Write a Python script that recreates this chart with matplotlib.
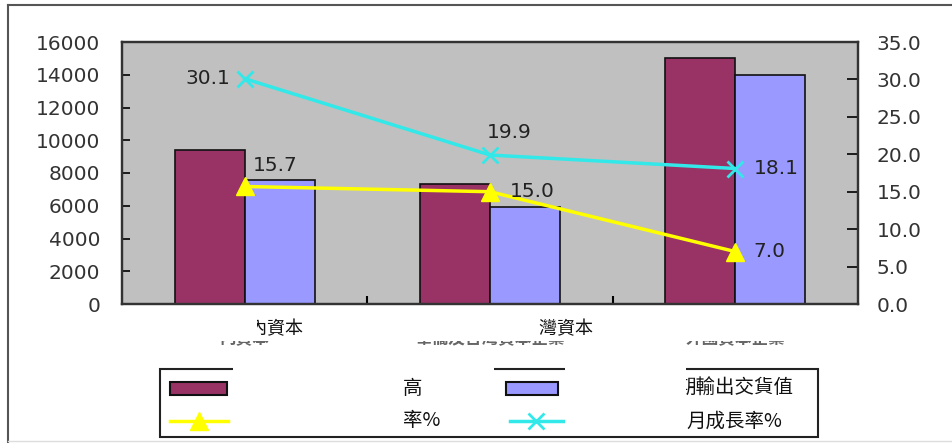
import matplotlib.pyplot as plt
import matplotlib.patches as mpatches
import matplotlib.lines as mlines
import matplotlib.transforms as mtransforms
from matplotlib.ticker import FormatStrFormatter
import numpy as np

plt.rcParams['font.family'] = ['DejaVu Sans', 'Noto Sans CJK TC']

# data
categories = ['內資本', '華僑及台灣資本企業', '外國資本企業']
orders = [9400, 7300, 15000]          # maroon bars
exports = [7600, 5900, 14000]         # blue bars
growth_yellow = [15.7, 15.0, 7.0]     # yellow line, right axis
growth_cyan = [30.1, 19.9, 18.1]      # cyan line, right axis
left_ticks = list(range(0, 16001, 2000))
right_ticks = [0, 5, 10, 15, 20, 25, 30, 35]

W, H = 953, 443
fig = plt.figure(figsize=(W / 100, H / 100), dpi=100)
# pixel coords with origin at top-left
PX = mtransforms.Affine2D().scale(1, -1).translate(0, H)

cjk = ['Noto Sans CJK TC', 'DejaVu Sans']
maroon = '#993366'
lilac = '#9999FF'
yellow = '#FFFF00'
cyan = '#33E8E8'

ax = fig.add_axes([122 / W, 1 - 304 / H, 736 / W, 262 / H])
ax.set_facecolor('#C0C0C0')

x = np.arange(len(categories))
bw = 0.285
ax.bar(x - bw / 2, orders, bw, color=maroon, edgecolor='#111', linewidth=1.2, zorder=2)
ax.bar(x + bw / 2, exports, bw, color=lilac, edgecolor='#111', linewidth=1.2, zorder=2)
ax.set_xlim(-0.5, 2.5)
ax.set_ylim(0, 16000)
ax.set_yticks(left_ticks)
ax.tick_params(axis='y', direction='in', length=6, width=1.2, pad=15.5,
               labelsize=14.5, labelcolor='#333')

ax.set_xticks([0.5, 1.5])
ax.set_xticklabels([])
ax.tick_params(axis='x', which='major', direction='in', length=6, width=1.5)
ax.set_xticks(x, minor=True)
ax.set_xticklabels(categories, minor=True, fontsize=12, fontweight='bold',
                   color='#666', family=cjk)
ax.tick_params(axis='x', which='minor', length=0, pad=19)

ax2 = ax.twinx()
ax2.plot(x, growth_cyan, color=cyan, lw=2.5, marker='x', ms=11, mew=2, zorder=3)
ax2.plot(x, growth_yellow, color=yellow, lw=2.5, marker='^', ms=13, zorder=4)
ax2.set_ylim(0, 35)
ax2.set_yticks(right_ticks)
ax2.yaxis.set_major_formatter(FormatStrFormatter('%.1f'))
ax2.tick_params(axis='y', direction='in', length=8, width=1.2, pad=13.5,
                labelsize=14.5, labelcolor='#333')

for a in (ax, ax2):
    for sp in a.spines.values():
        sp.set_color('#333')
        sp.set_linewidth(1.6)

# data labels
cyan_off = [(-10.5, 0, 'right'), (-2, 16.5, 'left'), (13, 0, 'left')]
yellow_off = [(6, 15, 'left'), (14, 0, 'left'), (13, 0, 'left')]
for vals, offs in ((growth_cyan, cyan_off), (growth_yellow, yellow_off)):
    for xi, v, (dx, dy, ha) in zip(x, vals, offs):
        ax2.annotate(f'{v:.1f}', (xi, v), textcoords='offset points',
                     xytext=(dx, dy), ha=ha, va='center', fontsize=14.5,
                     color='#222', zorder=5)

# outer frame
fig.add_artist(mlines.Line2D([8, 8], [5, 443], transform=PX, color='#555', lw=1.5))
fig.add_artist(mlines.Line2D([8, 953], [5, 5], transform=PX, color='#555', lw=1.5))
fig.add_artist(mlines.Line2D([8, 953], [441, 441], transform=PX, color='#ddd', lw=1))

# white patch over upper half of the category labels
fig.add_artist(mpatches.Rectangle((190, 312), 620, 29, transform=PX,
                                  facecolor='white', edgecolor='none', zorder=2))


def clipped_text(xp, yp, s, clip_left, size, ha='left'):
    t = fig.text(xp, yp, s, transform=PX, ha=ha, va='center', fontsize=size,
                 family=cjk, color='#111', zorder=5)
    box = mtransforms.TransformedBbox(
        mtransforms.Bbox([[clip_left, 0], [W, H]]),
        mtransforms.IdentityTransform())
    t.set_clip_box(box)
    t.set_clip_on(True)
    return t


clipped_text(303, 329, '內資本', 257, 13, ha='right')
clipped_text(593, 329, '台灣資本', 539, 13, ha='right')

# legend box
fig.add_artist(mpatches.Rectangle((160, 369), 658, 68, transform=PX,
                                  facecolor='white', edgecolor='#222', lw=1.5, zorder=1))
fig.add_artist(mpatches.Rectangle((170, 382), 57, 13, transform=PX,
                                  facecolor=maroon, edgecolor='#111', lw=1.5, zorder=1.5))
fig.add_artist(mpatches.Rectangle((506, 382), 52, 13, transform=PX,
                                  facecolor=lilac, edgecolor='#111', lw=1.5, zorder=1.5))
fig.add_artist(mlines.Line2D([170, 228], [421, 421], transform=PX, color=yellow,
                             lw=2.5, zorder=1.5))
fig.add_artist(mlines.Line2D([199], [421], transform=PX, color=yellow, marker='^',
                             ms=13, zorder=1.5))
fig.add_artist(mlines.Line2D([510, 563], [421, 421], transform=PX, color=cyan,
                             lw=2.5, zorder=1.5))
fig.add_artist(mlines.Line2D([536], [421], transform=PX, color=cyan, marker='x',
                             ms=11, mew=2, zorder=1.5))

# white patches over the legend labels
fig.add_artist(mpatches.Rectangle((233, 366), 261, 66, transform=PX,
                                  facecolor='white', edgecolor='none', zorder=2))
fig.add_artist(mpatches.Rectangle((565, 366), 121, 66, transform=PX,
                                  facecolor='white', edgecolor='none', zorder=2))

clipped_text(403, 388, '高', 0, 14)
clipped_text(403, 421, '率%', 0, 14)
clipped_text(793, 388, '期輸出交貨值', 686, 14, ha='right')
clipped_text(686, 421, '月成長率%', 0, 14)

fig.savefig('out.png', dpi=100)
